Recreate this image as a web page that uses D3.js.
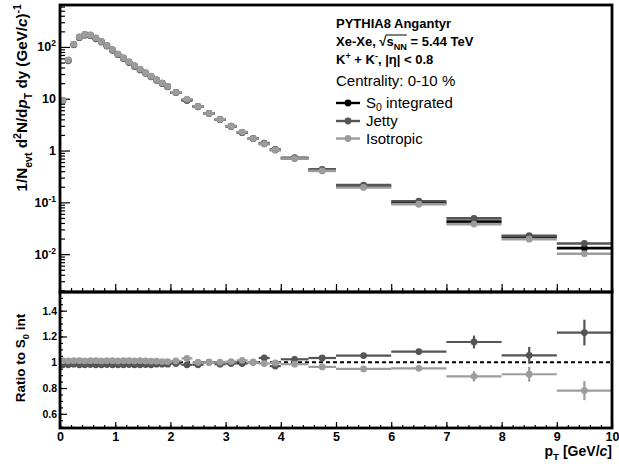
<!DOCTYPE html>
<html>
<head>
<meta charset="utf-8">
<script src="https://cdn.jsdelivr.net/npm/d3@7"></script>
<style>
  html, body { margin: 0; padding: 0; background: #fff; }
  svg { display: block; font-family: "Liberation Sans", Arial, sans-serif; }
  .tick line { stroke: #000; stroke-width: 1.2; }
</style>
</head>
<body>
<svg id="chart" width="619" height="464"></svg>
<script>
// ─── Data ─────────────────────────────────────────────────────────────────────
// pT bin edges, GeV/c
const binEdges = [0, 0.1, 0.2, 0.3, 0.4, 0.5, 0.6, 0.7, 0.8, 0.9, 1.0,
    1.1, 1.2, 1.3, 1.4, 1.5, 1.6, 1.7, 1.8, 1.9, 2.0,
    2.2, 2.4, 2.6, 2.8, 3.0, 3.2, 3.4, 3.6, 3.8, 4.0,
    4.5, 5.0, 6.0, 7.0, 8.0, 9.0, 10.0];

// 1/Nevt d2N/dpT dy
const s0Spectrum = [9.3, 55, 112, 154, 172, 168, 147, 127, 106, 88,
    72, 61, 51, 43, 37, 31.6, 27, 23, 20, 17.3,
    13.2, 9.5, 7.1, 5.2, 4.0, 2.95, 2.24, 1.70, 1.35, 1.05,
    0.71, 0.42, 0.205, 0.097, 0.0425, 0.0215, 0.0131];
const jettySpectrum = [9.1, 54, 110, 151, 169, 165, 144, 124, 104, 86,
    71, 60, 50, 42, 36, 31, 26.5, 22.7, 19.7, 17.0,
    13.1, 9.3, 7.0, 5.2, 3.94, 2.92, 2.22, 1.70, 1.39, 1.02,
    0.726, 0.434, 0.216, 0.105, 0.049, 0.0227, 0.0161];
const isoSpectrum = [9.4, 56, 113, 156, 174, 170, 149, 128, 107, 89,
    73, 62, 52, 43.5, 37.4, 31.9, 27.2, 23.2, 20.1, 17.4,
    13.3, 9.8, 7.1, 5.2, 4.0, 2.96, 2.27, 1.70, 1.34, 1.04,
    0.70, 0.405, 0.194, 0.092, 0.038, 0.0195, 0.0102];

// Ratio to S0 integrated
const jettyRatio = [0.98, 0.98, 0.985, 0.98, 0.98, 0.982, 0.98, 0.98, 0.982, 0.98,
    0.98, 0.98, 0.982, 0.98, 0.98, 0.982, 0.98, 0.985, 0.985, 0.985,
    0.99, 0.98, 0.98, 1.0, 0.985, 0.99, 0.99, 1.0, 1.033, 0.97,
    1.023, 1.033, 1.052, 1.083, 1.157, 1.054, 1.23];
const jettyRatioErr = [0, 0, 0, 0, 0, 0, 0, 0, 0, 0,
    0, 0, 0, 0, 0, 0, 0, 0, 0, 0,
    0, 0, 0, 0, 0, 0, 0, 0, 0.005, 0.006,
    0.01, 0.012, 0.012, 0.02, 0.05, 0.065, 0.1];
const isoRatio = [1.012, 1.01, 1.012, 1.012, 1.01, 1.012, 1.012, 1.01, 1.012, 1.012,
    1.01, 1.012, 1.012, 1.01, 1.012, 1.01, 1.008, 1.008, 1.005, 1.005,
    1.01, 1.03, 1.0, 1.0, 1.0, 1.005, 1.015, 1.0, 0.99, 0.995,
    0.985, 0.964, 0.948, 0.953, 0.891, 0.907, 0.78];
const isoRatioErr = [0, 0, 0, 0, 0, 0, 0, 0, 0, 0,
    0, 0, 0, 0, 0, 0, 0, 0, 0, 0,
    0, 0, 0, 0, 0, 0, 0, 0, 0.005, 0.006,
    0.01, 0.012, 0.012, 0.018, 0.04, 0.058, 0.074];

const xTicks      = [0, 1, 2, 3, 4, 5, 6, 7, 8, 9, 10];
const logTicks    = [0.01, 0.1, 1, 10, 100];
const ratioTicks  = [0.6, 0.8, 1.0, 1.2, 1.4];

// ─── Layout ───────────────────────────────────────────────────────────────────
const X0 = 60, X1 = 612;
const TOP_Y0 = 5, TOP_Y1 = 292;
const BOT_Y0 = 292, BOT_Y1 = 428;

const COL_S0 = "#000000", COL_JET = "#555555", COL_ISO = "#9c9c9c";
const FONT = "'Liberation Sans', Arial, sans-serif";

const svg = d3.select("#chart");

const x      = d3.scaleLinear().domain([0, 10]).range([X0, X1]);
const yTop   = d3.scaleLog().domain([0.00186, 645]).range([TOP_Y1, TOP_Y0]);
const yRatio = d3.scaleLinear().domain([0.49, 1.545]).range([BOT_Y1, BOT_Y0]);

const bins = binEdges.slice(0, -1).map((lo, i) => ({ lo, hi: binEdges[i + 1], mid: (lo + binEdges[i + 1]) / 2 }));

// ─── Helpers ──────────────────────────────────────────────────────────────────
// parts: [text, mode] with mode "", "sub", "sup", "i"
function rich(textSel, parts, size, subShift = 0.3) {
    let shift = 0;
    parts.forEach(([txt, mode]) => {
        const target = mode === "sub" ? subShift * size : mode === "sup" ? -0.42 * size : 0;
        const ts = textSel.append("tspan").text(txt).attr("dy", target - shift);
        shift = target;
        if (mode === "sub" || mode === "sup") ts.attr("font-size", 0.7 * size);
        if (mode === "i") ts.attr("font-style", "italic");
    });
    return textSel;
}

function minorLinear(lo, hi, step) {
    const out = [];
    for (let v = lo; v <= hi + 1e-9; v += step) out.push(+v.toFixed(4));
    return out;
}

// ─── Axes (ROOT-style inward ticks) ───────────────────────────────────────────
const xMinor = minorLinear(0, 10, 0.2);

// top panel x ticks (no labels)
svg.append("g").attr("transform", `translate(0,${TOP_Y1})`)
    .call(d3.axisBottom(x).tickValues(xMinor).tickSize(-4).tickFormat(""))
    .call(g => g.select(".domain").remove());
svg.append("g").attr("transform", `translate(0,${TOP_Y1})`)
    .call(d3.axisBottom(x).tickValues(xTicks).tickSize(-8).tickFormat(""))
    .call(g => g.select(".domain").remove());

// top panel log y
const logMinor = [];
[0.001, 0.01, 0.1, 1, 10, 100].forEach(dec => {
    for (let k = 2; k <= 9; k++) {
        const v = dec * k;
        if (v > yTop.domain()[0] && v < yTop.domain()[1]) logMinor.push(v);
    }
});
svg.append("g").attr("transform", `translate(${X0},0)`)
    .call(d3.axisLeft(yTop).tickValues(logMinor).tickSize(-5).tickFormat(""))
    .call(g => g.select(".domain").remove());
const yTopAxis = svg.append("g").attr("transform", `translate(${X0},0)`)
    .call(d3.axisLeft(yTop).tickValues(logTicks).tickSize(-10).tickPadding(4))
    .call(g => g.select(".domain").remove());
yTopAxis.selectAll(".tick text")
    .attr("font-family", FONT).attr("font-weight", "bold").attr("font-size", 12.5).attr("fill", "#000")
    .each(function(d) {
        const e = Math.round(Math.log10(d));
        const t = d3.select(this).text(null);
        if (e === 0) t.text("1");
        else if (e === 1) t.text("10");
        else {
            t.append("tspan").text("10");
            t.append("tspan").attr("dy", -5).attr("font-size", 8.5).text(e);
        }
    });

// ratio panel x
svg.append("g").attr("transform", `translate(0,${BOT_Y1})`)
    .call(d3.axisBottom(x).tickValues(xMinor).tickSize(-3).tickFormat(""))
    .call(g => g.select(".domain").remove());
svg.append("g").attr("transform", `translate(0,${BOT_Y1})`)
    .call(d3.axisBottom(x).tickValues(xTicks).tickSize(-6).tickPadding(4).tickFormat(d3.format("d")))
    .call(g => g.select(".domain").remove())
    .call(g => g.selectAll(".tick text")
        .attr("font-family", FONT).attr("font-weight", "bold").attr("font-size", 12.5).attr("fill", "#000"));

// ratio panel y
svg.append("g").attr("transform", `translate(${X0},0)`)
    .call(d3.axisLeft(yRatio).tickValues(minorLinear(0.5, 1.5, 0.05)).tickSize(-3).tickFormat(""))
    .call(g => g.select(".domain").remove());
svg.append("g").attr("transform", `translate(${X0},0)`)
    .call(d3.axisLeft(yRatio).tickValues(ratioTicks).tickSize(-7).tickPadding(3)
        .tickFormat(d => d === 1 ? "1" : d3.format(".1f")(d)))
    .call(g => g.select(".domain").remove())
    .call(g => g.selectAll(".tick text")
        .attr("font-family", FONT).attr("font-weight", "bold").attr("font-size", 10.5).attr("fill", "#000"));

// ─── Top panel: spectra ──────────────────────────────────────────────────────
const series = [
    { name: "S0",  values: s0Spectrum,    color: COL_S0 },
    { name: "jet", values: jettySpectrum, color: COL_JET },
    { name: "iso", values: isoSpectrum,   color: COL_ISO },
];

const topG = svg.append("g");
series.forEach(s => {
    const g = topG.append("g");
    g.selectAll("line").data(bins).join("line")
        .attr("x1", d => x(d.lo)).attr("x2", d => x(d.hi))
        .attr("y1", (d, i) => yTop(s.values[i])).attr("y2", (d, i) => yTop(s.values[i]))
        .attr("stroke", s.color).attr("stroke-width", 2.6);
    g.selectAll("circle").data(bins).join("circle")
        .attr("cx", d => x(d.mid)).attr("cy", (d, i) => yTop(s.values[i]))
        .attr("r", 3.4).attr("fill", s.color);
});

// ─── Ratio panel ──────────────────────────────────────────────────────────────
svg.append("line")
    .attr("x1", X0).attr("x2", X1).attr("y1", yRatio(1)).attr("y2", yRatio(1))
    .attr("stroke", "#000").attr("stroke-width", 2).attr("stroke-dasharray", "4,3");

[
    { values: jettyRatio, errs: jettyRatioErr, color: COL_JET },
    { values: isoRatio,   errs: isoRatioErr,   color: COL_ISO },
].forEach(s => {
    const g = svg.append("g");
    const pts = bins.map((b, i) => ({ ...b, v: s.values[i], e: s.errs[i] }));
    g.selectAll("line.h").data(pts).join("line").attr("class", "h")
        .attr("x1", d => x(d.lo)).attr("x2", d => x(d.hi))
        .attr("y1", d => yRatio(d.v)).attr("y2", d => yRatio(d.v))
        .attr("stroke", s.color).attr("stroke-width", 2.2);
    g.selectAll("line.v").data(pts.filter(d => d.e > 0)).join("line").attr("class", "v")
        .attr("x1", d => x(d.mid)).attr("x2", d => x(d.mid))
        .attr("y1", d => yRatio(d.v - d.e)).attr("y2", d => yRatio(d.v + d.e))
        .attr("stroke", s.color).attr("stroke-width", 2.2);
    g.selectAll("circle").data(pts).join("circle")
        .attr("cx", d => x(d.mid)).attr("cy", d => yRatio(d.v))
        .attr("r", 3.4).attr("fill", s.color);
});

// ─── Frames ───────────────────────────────────────────────────────────────────
svg.append("rect").attr("x", X0).attr("y", TOP_Y0).attr("width", X1 - X0).attr("height", TOP_Y1 - TOP_Y0)
    .attr("fill", "none").attr("stroke", "#000").attr("stroke-width", 2.8);
svg.append("rect").attr("x", X0).attr("y", BOT_Y0).attr("width", X1 - X0).attr("height", BOT_Y1 - BOT_Y0)
    .attr("fill", "none").attr("stroke", "#000").attr("stroke-width", 2.8);

// ─── Axis titles ──────────────────────────────────────────────────────────────
rich(svg.append("text")
        .attr("transform", "translate(27,4) rotate(-90)")
        .attr("text-anchor", "end").attr("font-family", FONT).attr("font-weight", "bold").attr("font-size", 15.2),
    [["1/N", ""], ["evt", "sub"], [" d", ""], ["2", "sup"], ["N/d", ""], ["p", "i"], ["T", "sub"],
     [" dy (GeV/", ""], ["c", "i"], [")", ""], ["-1", "sup"]], 15.2);

rich(svg.append("text")
        .attr("transform", `translate(25,${(BOT_Y0 + BOT_Y1) / 2 - 2}) rotate(-90)`)
        .attr("text-anchor", "middle").attr("font-family", FONT).attr("font-weight", "bold").attr("font-size", 13.5),
    [["Ratio to S", ""], ["0", "sub"], [" int", ""]], 13.5);

rich(svg.append("text")
        .attr("x", X1).attr("y", 456)
        .attr("text-anchor", "end").attr("font-family", FONT).attr("font-weight", "bold").attr("font-size", 14),
    [["p", ""], ["T", "sub"], [" [GeV/", ""], ["c", "i"], ["]", ""]], 14);

// ─── Info text & legend ───────────────────────────────────────────────────────
const TX = 336;
svg.append("text").attr("x", TX).attr("y", 27.5)
    .attr("font-family", FONT).attr("font-weight", "bold").attr("font-size", 13)
    .text("PYTHIA8 Angantyr");

const energy = rich(svg.append("text").attr("x", TX).attr("y", 46)
        .attr("font-family", FONT).attr("font-weight", "bold").attr("font-size", 13),
    [["Xe-Xe, ", ""], ["\u221A", ""], ["s", ""], ["NN", "sub"], [" = 5.44 TeV", ""]], 13);
{
    const spans = energy.selectAll("tspan").nodes();
    const xa = spans[2].getStartPositionOfChar(0).x;
    const xb = spans[3].getEndPositionOfChar(1).x;
    svg.append("line").attr("x1", xa - 1).attr("x2", xb).attr("y1", 35).attr("y2", 35)
        .attr("stroke", "#000").attr("stroke-width", 1);
}

rich(svg.append("text").attr("x", TX).attr("y", 64)
        .attr("font-family", FONT).attr("font-weight", "bold").attr("font-size", 13),
    [["K", ""], ["+", "sup"], [" + K", ""], ["-", "sup"], [", |\u03B7| < 0.8", ""]], 13);

svg.append("text").attr("x", TX).attr("y", 86)
    .attr("font-family", FONT).attr("font-size", 15)
    .text("Centrality: 0-10 %");

const legendItems = [
    { parts: [["S", ""], ["0", "sub"], [" integrated", ""]], color: COL_S0, y: 103 },
    { parts: [["Jetty", ""]],                                 color: COL_JET, y: 121 },
    { parts: [["Isotropic", ""]],                             color: COL_ISO, y: 138.5 },
];
legendItems.forEach(it => {
    svg.append("line").attr("x1", TX).attr("x2", TX + 24).attr("y1", it.y).attr("y2", it.y)
        .attr("stroke", it.color).attr("stroke-width", 2.4);
    svg.append("circle").attr("cx", TX + 12).attr("cy", it.y).attr("r", 3.4).attr("fill", it.color);
    rich(svg.append("text").attr("x", TX + 30).attr("y", it.y + 5)
            .attr("font-family", FONT).attr("font-size", 15),
        it.parts, 15, 0.2);
});
</script>
</body>
</html>
